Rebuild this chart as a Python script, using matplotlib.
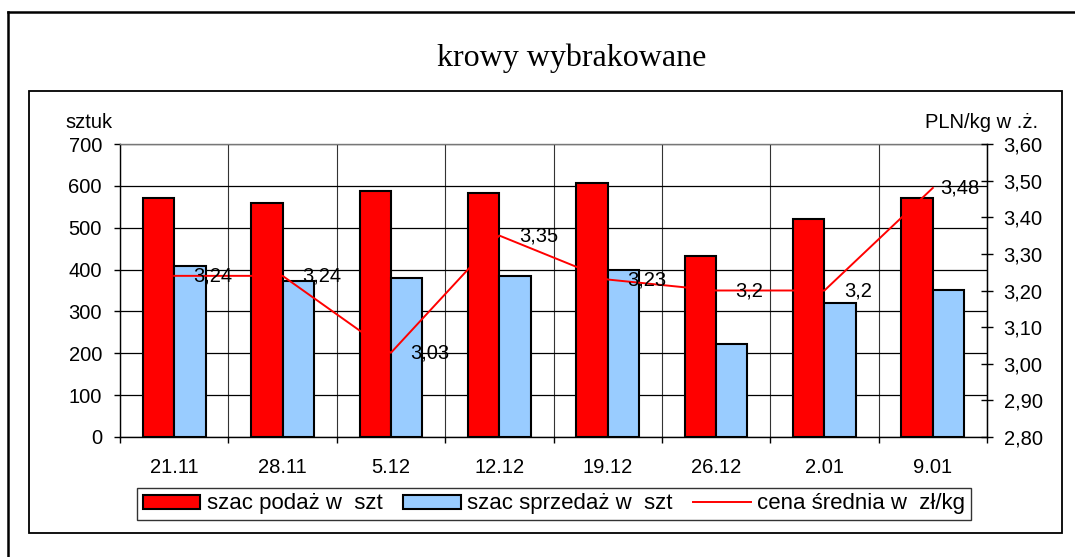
import numpy as np
import matplotlib

matplotlib.use("Agg")
import matplotlib.pyplot as plt
from matplotlib.patches import Rectangle
from matplotlib.lines import Line2D

plt.rcParams["font.family"] = ["Liberation Sans", "DejaVu Sans"]

# data
weeks = ["21.11", "28.11", "5.12", "12.12", "19.12", "26.12", "2.01", "9.01"]
supply = [572, 558, 588, 584, 606, 433, 521, 572]      # szac podaż w szt
sales = [409, 373, 381, 385, 400, 223, 320, 351]       # szac sprzedaż w szt
price = [3.24, 3.24, 3.03, 3.35, 3.23, 3.2, 3.2, 3.48]  # cena średnia zł/kg
price_labels = ["3,24", "3,24", "3,03", "3,35", "3,23", "3,2", "3,2", "3,48"]

W, H = 1075, 557
FS = 14.5
RED = "#FF0000"
BLUE = "#99CCFF"

fig = plt.figure(figsize=(W / 100, H / 100), dpi=100)

# outer frame (only top/left visible) and chart-area box
fig.add_artist(Line2D([8 / W, 1.0], [1 - 12 / H, 1 - 12 / H], color="black", lw=1.8))
fig.add_artist(Line2D([8 / W, 8 / W], [0, 1 - 12 / H], color="black", lw=1.8))
fig.add_artist(Rectangle((29 / W, 1 - 533 / H), (1062 - 29) / W, (533 - 91) / H,
                         fill=False, ec="black", lw=1.3))

ax = fig.add_axes([120 / W, 1 - 437 / H, (987 - 120) / W, (437 - 144) / H])
x = np.arange(len(weeks))
bw = 0.29
ax.bar(x - bw / 2, supply, bw, color=RED, ec="black", lw=1.5, zorder=3,
       label="szac podaż w  szt")
ax.bar(x + bw / 2, sales, bw, color=BLUE, ec="black", lw=1.5, zorder=3,
       label="szac sprzedaż w  szt")
ax.set_xlim(-0.5, len(weeks) - 0.5)
ax.set_ylim(0, 700)
ax.set_yticks(np.arange(0, 701, 100))
ax.set_xticks(x)
ax.set_xticklabels(weeks, fontsize=FS)
ax.set_xticks(np.arange(-0.5, len(weeks), 1), minor=True)
ax.tick_params(axis="x", which="major", length=0, pad=15)
ax.tick_params(axis="x", which="minor", length=4, direction="out", width=1)
ax.tick_params(axis="y", labelsize=FS, length=4, width=1, pad=9)
ax.grid(True, axis="y", color="black", lw=0.9, zorder=1)
ax.grid(True, axis="x", which="minor", color="#333333", lw=0.8, zorder=1)
for s in ax.spines.values():
    s.set_color("black")
    s.set_linewidth(1.0)
ax.spines["top"].set_color("#777777")

ax2 = ax.twinx()
ax2.plot(x, price, color=RED, lw=1.4, zorder=4, label="cena średnia w  zł/kg")
ax2.set_ylim(2.8, 3.6)
ax2.set_yticks(np.arange(2.8, 3.61, 0.1))
ax2.set_yticklabels([f"{v:.2f}".replace(".", ",") for v in np.arange(2.8, 3.61, 0.1)])
ax2.tick_params(axis="y", labelsize=FS, length=8, width=1, direction="inout", pad=8)
for s in ax2.spines.values():
    s.set_visible(False)
ax2.spines["right"].set_visible(True)
ax2.spines["right"].set_color("black")

offsets = [14, 14, 14, 14, 14, 14, 14, 5]
for xi, p, lab, off in zip(x, price, price_labels, offsets):
    ax2.annotate(lab, (xi, p), xytext=(off, 0), textcoords="offset points",
                 ha="left", va="center", fontsize=FS, zorder=5)

fig.text(65 / W, 1 - 122 / H, "sztuk", fontsize=FS, ha="left", va="center")
fig.text(1038 / W, 1 - 122 / H, "PLN/kg w .ż.", fontsize=FS, ha="right", va="center")
fig.text(572 / W, 1 - 58 / H, "krowy wybrakowane", fontsize=23,
         family="Liberation Serif", ha="center", va="center")

h1, l1 = ax.get_legend_handles_labels()
h2, l2 = ax2.get_legend_handles_labels()
leg = fig.legend(h1 + h2, l1 + l2, loc="center", bbox_to_anchor=(554 / W, 1 - 504 / H),
                 ncol=3, fontsize=16, frameon=True, fancybox=False, edgecolor="black",
                 handlelength=2.6, handleheight=0.6, handletextpad=0.3,
                 columnspacing=0.9, borderpad=0.25, borderaxespad=0)
leg.get_frame().set_linewidth(1.0)

fig.savefig("out.png", dpi=100)
